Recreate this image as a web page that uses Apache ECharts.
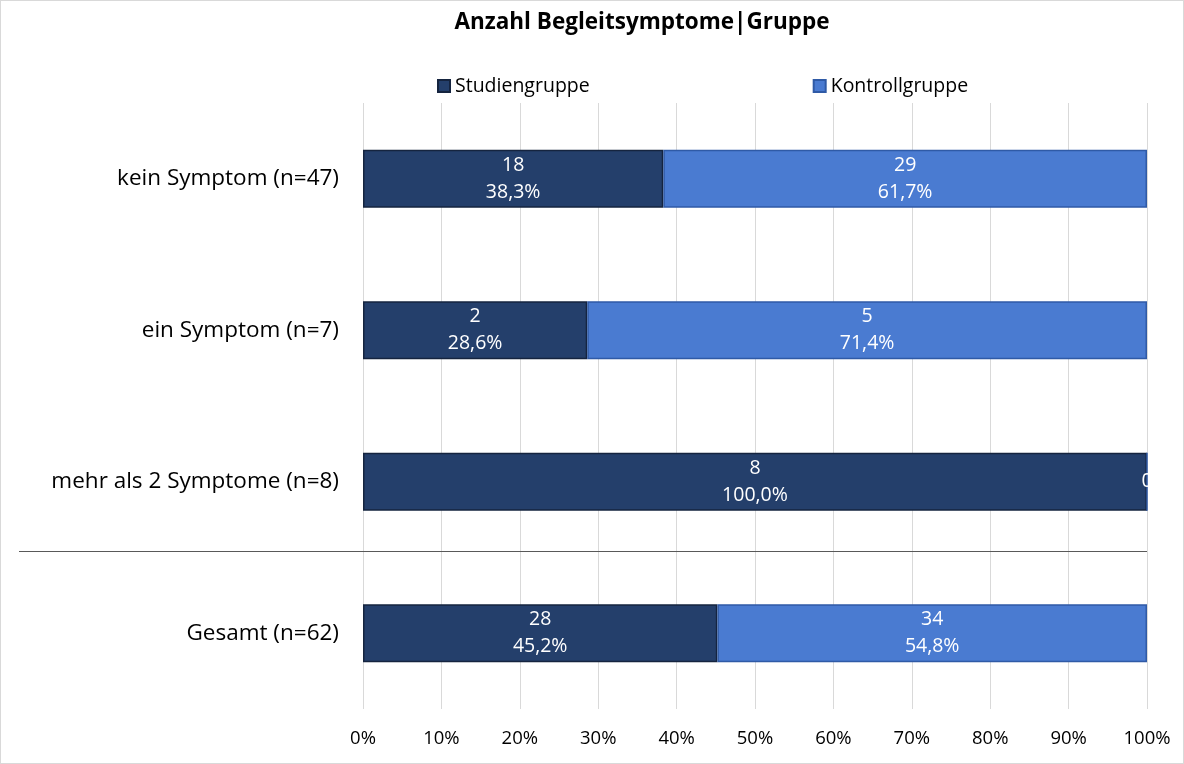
<!DOCTYPE html>
<html>
<head>
<meta charset="utf-8">
<script src="https://cdn.jsdelivr.net/npm/echarts@6/dist/echarts.min.js"></script>
<style>
  html, body { margin: 0; padding: 0; background: #fff; }
  #chart { width: 1184px; height: 764px; box-sizing: border-box; border: 1px solid #d9d9d9; }
</style>
</head>
<body>
<div id="chart"></div>
<script>
const categories = ['kein Symptom (n=47)', 'ein Symptom (n=7)', 'mehr als 2 Symptome (n=8)', 'Gesamt (n=62)']
const studyCounts = [18, 2, 8, 28]
const studyPercent = [38.3, 28.6, 100.0, 45.2]
const controlCounts = [29, 5, 0, 34]
const controlPercent = [61.7, 71.4, 0.0, 54.8]
const seriesNames = ['Studiengruppe', 'Kontrollgruppe']

const chart = echarts.init(document.getElementById('chart'))

function makeLabel(counts, percents) {
  return function (p) {
    const c = counts[p.dataIndex]
    if (c === 0) {
      return '0'
    }
    return c + '\n' + percents[p.dataIndex].toFixed(1).replace('.', ',') + '%'
  }
}

const labelStyle = {
  show: true,
  position: 'inside',
  color: '#fff',
  fontSize: 19.5,
  lineHeight: 27,
  fontFamily: 'Open Sans'
}

const option = {
  animation: false,
  textStyle: { fontFamily: 'Open Sans' },
  title: {
    text: 'Anzahl Begleitsymptome|Gruppe',
    left: 636,
    textAlign: 'center',
    top: 5,
    textStyle: { fontSize: 22.5, fontWeight: 'bold', color: '#000', fontFamily: 'Open Sans' }
  },
  legend: {
    left: 431,
    top: 70,
    itemWidth: 12,
    itemHeight: 12,
    itemGap: 223,
    icon: 'rect',
    textStyle: { fontSize: 19.5, color: '#000', fontFamily: 'Open Sans' },
    data: seriesNames
  },
  grid: {
    left: 362,
    right: 36,
    top: 102,
    bottom: 54
  },
  xAxis: {
    type: 'value',
    min: 0,
    max: 100,
    interval: 10,
    axisLine: { show: false },
    axisTick: { show: false },
    splitLine: { lineStyle: { color: '#d9d9d9' } },
    axisLabel: {
      formatter: '{value}%',
      fontSize: 18.5,
      color: '#000',
      margin: 20
    }
  },
  yAxis: {
    type: 'category',
    inverse: true,
    data: categories,
    axisLine: { show: false },
    axisTick: { show: false },
    axisLabel: { fontSize: 22.5, color: '#000', margin: 24 }
  },
  series: [
    {
      name: seriesNames[0],
      type: 'bar',
      stack: 'total',
      barWidth: 58,
      data: studyPercent,
      itemStyle: { color: '#243f6b', borderColor: '#15243f', borderWidth: 1.5 },
      label: Object.assign({}, labelStyle, { formatter: makeLabel(studyCounts, studyPercent) })
    },
    {
      name: seriesNames[1],
      type: 'bar',
      stack: 'total',
      barWidth: 58,
      data: controlPercent,
      itemStyle: { color: '#4a7bd1', borderColor: '#2f5aa6', borderWidth: 1.5 },
      label: Object.assign({}, labelStyle, { formatter: makeLabel(controlCounts, controlPercent) })
    }
  ]
}

chart.setOption(option)

// separator line between the symptom rows and the total row (sits a bit above the midpoint)
const yA = chart.convertToPixel({ yAxisIndex: 0 }, categories[2])
const yB = chart.convertToPixel({ yAxisIndex: 0 }, categories[3])
const xEnd = chart.convertToPixel({ xAxisIndex: 0 }, 100)
const ySep = Math.round(yA + (yB - yA) * 0.455) + 0.5
chart.setOption({
  graphic: [{
    type: 'line',
    shape: { x1: 18, y1: ySep, x2: xEnd, y2: ySep },
    style: { stroke: '#595959', lineWidth: 1 },
    z: 10
  }]
})
</script>
</body>
</html>
